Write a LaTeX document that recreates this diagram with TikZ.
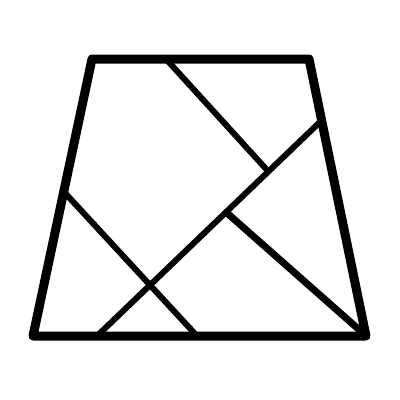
\documentclass[tikz,border=0pt]{standalone}
\begin{document}
\begin{tikzpicture}[x=1pt,y=-1pt,
  frame/.style={line width=9pt,line join=round,line cap=round},
  cut/.style={line width=6pt}]
\useasboundingbox (0,0) rectangle (400,400);
\coordinate (TL) at (92,59);
\coordinate (TR) at (309,59);
\coordinate (BR) at (366,336);
\coordinate (BL) at (33,336);
\draw[frame] (TL) -- (TR) -- (BR) -- (BL) -- cycle;
\draw[cut] (166,59) -- (267,170);
\draw[cut] (321,121) -- (97,336);
\draw[cut] (65,193) -- (197,336);
\draw[cut,line width=7pt] (227,213) -- (364,334);
\end{tikzpicture}
\end{document}
